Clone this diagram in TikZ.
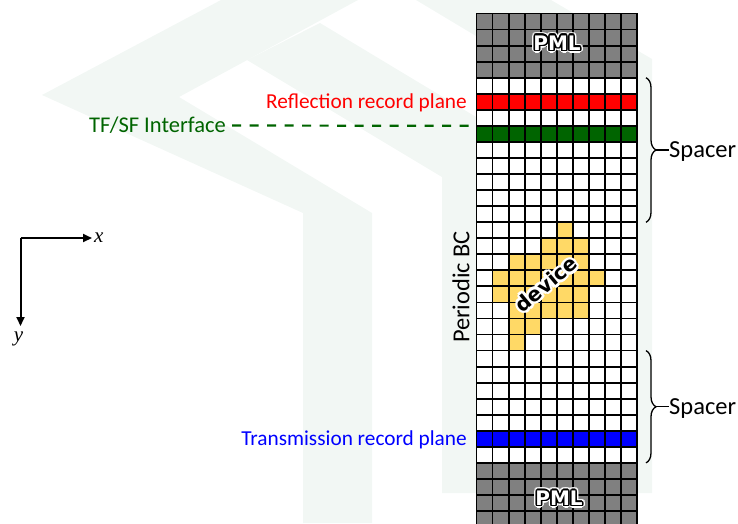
\documentclass[tikz,border=0pt]{standalone}
\usepackage{fontspec}
\setmainfont{Carlito}
\newfontfamily\tagfont{DejaVu Sans}
\newfontfamily\axfont{Liberation Serif}
\usepackage{tikz}
\usetikzlibrary{arrows.meta,positioning,calc,decorations.pathreplacing}
\definecolor{pmlGray}{RGB}{128,128,128}
\definecolor{recRed}{RGB}{255,0,0}
\definecolor{tfGreen}{RGB}{0,100,0}
\definecolor{recBlue}{RGB}{0,0,255}
\definecolor{devGold}{RGB}{255,217,102}
\definecolor{wmGreen}{RGB}{242,247,244}

\begin{document}
\begin{tikzpicture}[
  x=1pt, y=-1pt,
  font=\fontsize{21.3}{24}\selectfont,
  lbl/.style={inner sep=0pt, text height=13.5pt, text depth=0pt},
  tag/.style={font=\tagfont\bfseries\fontsize{20}{24}\selectfont, inner sep=0pt},
  gridln/.style={line width=1.8pt, line cap=rect},
  axis/.style={line width=2pt, -{Triangle[length=9pt,width=8pt]}},
  brc/.style={decorate, decoration={brace, amplitude=10pt}, line width=1.3pt}
]
\useasboundingbox (0,0) rectangle (738,523);
\clip (0,0) rectangle (738,523);

%============ WATERMARK ============
\fill[wmGreen] (42,95) -- (221,0) -- (358,0) -- (179,97) -- (372,213)
  -- (372,523) -- (303,523) -- (303,213) -- cycle;
\fill[wmGreen] (247,60) -- (320,23) -- (511,138) -- (511,493) -- (442,493) -- (442,177) -- cycle;
\fill[wmGreen] (416,0) -- (551,0) -- (652,59) -- (652,493) -- (581,493) -- (581,99) -- cycle;

%============ GRID ============
\begin{scope}[shift={(476.5,13.5)}, x=16.05pt, y=-16.05pt]
  % PML, record planes, TF/SF row
  \fill[white] (0,0) rectangle (10,33);
  \fill[pmlGray] (0,0) rectangle (10,4);
  \fill[recRed] (0,5) rectangle (10,6);
  \fill[tfGreen] (0,7) rectangle (10,8);
  \fill[recBlue] (0,26) rectangle (10,27);
  \fill[pmlGray] (0,28) rectangle (10,33);
  % device cells
  \foreach \c/\r in {5/13, 4/14,5/14,6/14, 2/15,3/15,4/15,5/15,6/15,
      1/16,2/16,3/16,4/16,5/16,6/16,7/16, 1/17,2/17,3/17,4/17,5/17,6/17,
      2/18,3/18,4/18,5/18,6/18, 2/19,3/19, 2/20}
    \fill[devGold] (\c,\r) rectangle ++(1,1);
  % cell lines
  \foreach \i in {0,...,10} \draw[gridln] (\i,0) -- (\i,33);
  \foreach \j in {0,...,33} \draw[gridln] (0,\j) -- (10,\j);
  \coordinate (tfsfin) at (0,7);
\end{scope}

% PML tags (white letters, black rim, white halo)
\foreach \a in {0,30,...,330} {
  \node[tag, text=white] (pmlha\a) at ($(557,43)+(\a:3)$) {PML};
  \node[tag, text=white] (pmlhb\a) at ($(559,498)+(\a:3)$) {PML};
}
\foreach \a in {0,30,...,330} {
  \node[tag] (pmlra\a) at ($(557,43)+(\a:1.5)$) {PML};
  \node[tag] (pmlrb\a) at ($(559,498)+(\a:1.5)$) {PML};
}
\node[tag, text=white] (pmltop) at (557,43) {PML};
\node[tag, text=white] (pmlbot) at (559,498) {PML};

% device tag
\foreach \a in {0,30,...,330}
  \node[tag, text=white, rotate=40] (devh\a) at ($(546,284)+(\a:2.5)$) {device};
\node[tag, rotate=40] (dev) at (546,284) {device};

%============ LABELS ============
\node[lbl, rotate=90, font=\fontsize{24.4}{28}\selectfont, text height=15.5pt] (pbc) at (461.5,287) {Periodic BC};
\node[lbl, anchor=east, text=recRed] (refl) at (467,101.8) {Reflection record plane};
\node[lbl, anchor=east, text=recBlue] (trans) at (467,438.8) {Transmission record plane};
\node[lbl, anchor=east, text=tfGreen, inner xsep=6pt, font=\fontsize{22.5}{26}\selectfont, text height=14.5pt] (tfsf) at (232,125.5) {TF/SF Interface};
\draw[tfGreen, line width=2.2pt, dash pattern=on 9pt off 8.5pt] (tfsf.east) -- (tfsfin);

% spacers
\coordinate (b1top) at (646,77.7);
\coordinate (b1bot) at (646,222.3);
\coordinate (b1tip) at (656,150);
\coordinate (b2top) at (646,350.6);
\coordinate (b2bot) at (646,462.9);
\coordinate (b2tip) at (656,406.7);
\draw[brc] (b1top) -- (b1bot);
\draw[brc] (b2top) -- (b2bot);
\node[lbl, anchor=west, font=\fontsize{24.5}{28}\selectfont, text height=15.8pt] (sp1) at (669,150) {Spacer};
\node[lbl, anchor=west, font=\fontsize{24.5}{28}\selectfont, text height=15.8pt] (sp2) at (669,406.7) {Spacer};
\draw[line width=1.3pt] (b1tip) -- (sp1.west);
\draw[line width=1.3pt] (b2tip) -- (sp2.west);

%============ AXES ============
\coordinate (o) at (20.5,238);
\node[inner sep=0pt, inner xsep=2pt, anchor=west, font=\axfont\itshape\fontsize{21}{24}\selectfont] (xlab) at (92,238) {x};
\node[inner sep=0pt, inner ysep=6pt, anchor=north, font=\axfont\itshape\fontsize{21}{24}\selectfont] (ylab) at (18.5,326) {y};
\draw[axis] (o) -- (xlab.west);
\draw[axis] (o) -- (ylab.north -| o);
\end{tikzpicture}
\end{document}
